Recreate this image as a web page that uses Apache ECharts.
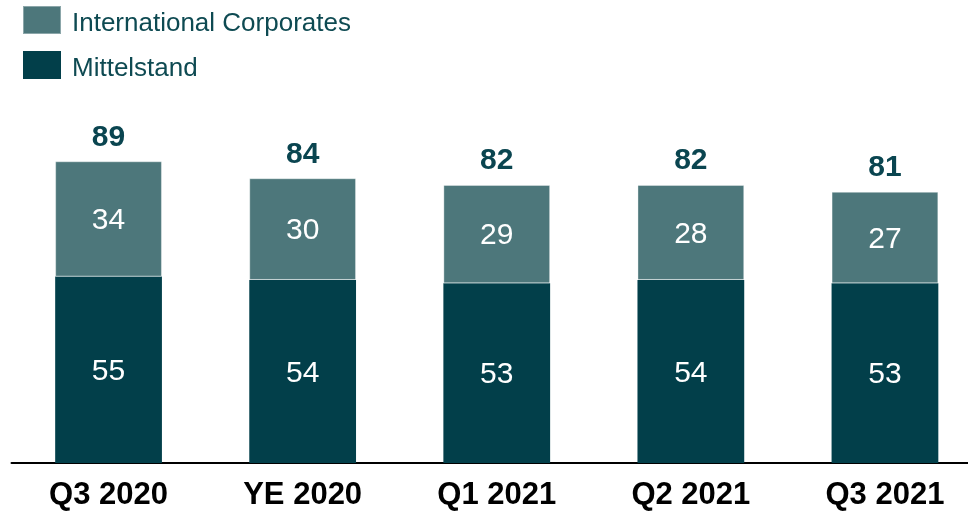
<!DOCTYPE html>
<html>
<head>
<meta charset="utf-8">
<script src="https://cdn.jsdelivr.net/npm/echarts@6/dist/echarts.min.js"></script>
<style>
  html, body { margin: 0; padding: 0; background: #fff; }
  #chart { width: 968px; height: 511px; }
</style>
</head>
<body>
<div id="chart"></div>
<script>
const categories = ['Q3 2020', 'YE 2020', 'Q1 2021', 'Q2 2021', 'Q3 2021']
const mittelstand = [55, 54, 53, 54, 53]
const intlCorporates = [34, 30, 29, 28, 27]
const totals = [89, 84, 82, 82, 81]

const chart = echarts.init(document.getElementById('chart'))

const font = 'Liberation Sans, Arial, sans-serif'

chart.setOption({
  animation: false,
  legend: {
    data: ['International Corporates', 'Mittelstand'],
    orient: 'vertical',
    left: 17,
    top: 0,
    itemWidth: 38,
    itemHeight: 28,
    itemGap: 14,
    icon: 'rect',
    formatter: name => '{t|' + name + '}',
    textStyle: {
      fontFamily: font, fontSize: 26, color: '#0e4a52', padding: [0, 0, 0, 6],
      rich: { t: { fontFamily: font, fontSize: 26, color: '#0e4a52', padding: [8, 0, 0, 0] } }
    }
  },
  grid: { left: 11.5, right: -14, top: 124, bottom: 48, outerBoundsMode: 'none' },
  xAxis: {
    type: 'category',
    data: categories,
    axisLine: { lineStyle: { color: '#000', width: 2 } },
    axisTick: { show: false },
    axisLabel: { fontFamily: font, fontSize: 31, fontWeight: 'bold', color: '#000', margin: 17 }
  },
  yAxis: { type: 'value', min: 0, max: 100, show: false, splitLine: { show: false } },
  series: [
    {
      name: 'Mittelstand',
      type: 'bar',
      stack: 'total',
      barWidth: '55%',
      data: mittelstand,
      itemStyle: { color: '#023f4a' },
      label: { show: true, position: 'inside', fontFamily: font, fontSize: 30, color: '#fff', offset: [0, 2] }
    },
    {
      name: 'International Corporates',
      type: 'bar',
      stack: 'total',
      data: intlCorporates,
      itemStyle: { color: '#4d777b', borderColor: 'rgba(255,255,255,0.35)', borderWidth: 1 },
      label: { show: true, position: 'inside', fontFamily: font, fontSize: 30, color: '#fff', offset: [0, 2] }
    },
    {
      name: 'Total',
      type: 'bar',
      stack: 'total',
      data: totals.map(() => 0),
      itemStyle: { color: 'transparent' },
      label: {
        show: true,
        position: 'top',
        distance: 9,
        fontFamily: font,
        fontSize: 30,
        fontWeight: 'bold',
        color: '#0a4550',
        formatter: p => totals[p.dataIndex]
      }
    }
  ]
})
</script>
</body>
</html>
